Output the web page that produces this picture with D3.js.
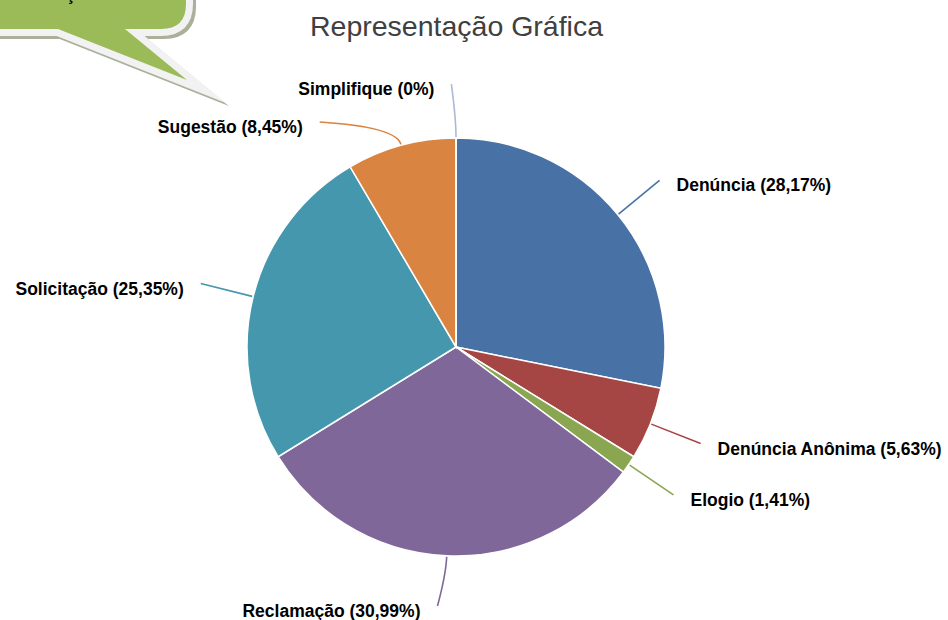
<!DOCTYPE html>
<html>
<head>
<meta charset="utf-8">
<script src="https://cdn.jsdelivr.net/npm/d3@7"></script>
<style>
  body { margin: 0; background: #fff; }
  svg { display: block; }
</style>
</head>
<body>
<div class="chart"></div>
<script>
const width = 948;
const height = 620;

// data
const categories = ["Denúncia", "Denúncia Anônima", "Elogio", "Reclamação", "Solicitação", "Sugestão", "Simplifique"];
const values = [28.17, 5.63, 1.41, 30.99, 25.35, 8.45, 0];
const palette = ["#4872a6", "#a64644", "#8aa650", "#7f6899", "#4497ad", "#da8441", "#a9bbd8"];
// small angle nudges (degrees) for labels that Excel moved to avoid overlap
const labelShift = [0, 0, 0, 1.5, 0, -16, -1];

const cx = 456, cy = 347, radius = 209;

const svg = d3.select(".chart")
    .append("svg")
    .attr("width", width)
    .attr("height", height)

// speech bubble in top left corner
const bubble = "M -30,-40 H 161 Q 186,-40 186,-15 V 4 Q 186,29 161,29 H 125 L 187,80 L 58,29 H -30 Z"
svg.append("path")
    .attr("d", bubble)
    .attr("transform", "translate(3,3)")
    .attr("fill", "#aab09a")
    .attr("stroke", "#aab09a")
    .attr("stroke-width", 14)
    .attr("stroke-miterlimit", 10)
svg.append("path")
    .attr("d", bubble)
    .attr("fill", "#f2f2f2")
    .attr("stroke", "#f2f2f2")
    .attr("stroke-width", 14)
    .attr("stroke-miterlimit", 10)
svg.append("path")
    .attr("d", bubble)
    .attr("fill", "#9bbb59")
// the bubble text sits above the page, only the cedilla shows
svg.append("text")
    .attr("x", -15)
    .attr("y", 0)
    .attr("font-family", "Liberation Sans, Arial, sans-serif")
    .attr("font-weight", "bold")
    .attr("font-size", 17.5)
    .attr("fill", "#000")
    .text("Manifestação")

// title
svg.append("text")
    .attr("x", 456.5)
    .attr("y", 36)
    .attr("text-anchor", "middle")
    .attr("font-family", "Liberation Sans, Arial, sans-serif")
    .attr("font-size", 28.5)
    .attr("fill", "#404040")
    .text("Representação Gráfica")

const rows = categories.map((c, i) => ({ name: c, value: values[i], i }))

const pie = d3.pie()
    .value(d => d.value)
    .sort(null)

const arc = d3.arc()
    .innerRadius(0)
    .outerRadius(radius)

const arcs = pie(rows)

const g = svg.append("g")
    .attr("transform", `translate(${cx},${cy})`)

g.selectAll("path.slice")
    .data(arcs)
    .join("path")
    .attr("class", "slice")
    .attr("d", arc)
    .attr("fill", d => palette[d.data.i])
    .attr("stroke", "#fff")
    .attr("stroke-width", 1.5)

const polar = (r, a) => [r * Math.sin(a), -r * Math.cos(a)]

arcs.forEach(d => {
    const mid = (d.startAngle + d.endAngle) / 2
    const la = mid + labelShift[d.data.i] * Math.PI / 180
    const start = polar(radius + 1, mid)
    const ctrl = polar(radius + 19, mid)
    let end = polar(radius + 54, la)
    // keep the bottom label inside the frame
    if (cy + end[1] > height - 14) end = [end[0], height - 14 - cy]
    const right = Math.sin(la) > 0

    const p = d3.path()
    p.moveTo(start[0], start[1])
    p.quadraticCurveTo(ctrl[0], ctrl[1], end[0], end[1])

    g.append("path")
        .attr("d", p.toString())
        .attr("fill", "none")
        .attr("stroke", palette[d.data.i])
        .attr("stroke-width", 1.6)

    g.append("text")
        .attr("x", end[0] + (right ? 17 : -17))
        .attr("y", end[1] + 11)
        .attr("text-anchor", right ? "start" : "end")
        .attr("font-family", "Liberation Sans, Arial, sans-serif")
        .attr("font-weight", "bold")
        .attr("font-size", 17.5)
        .attr("fill", "#000")
        .text(`${d.data.name} (${String(d.data.value).replace(".", ",")}%)`)
})
</script>
</body>
</html>
